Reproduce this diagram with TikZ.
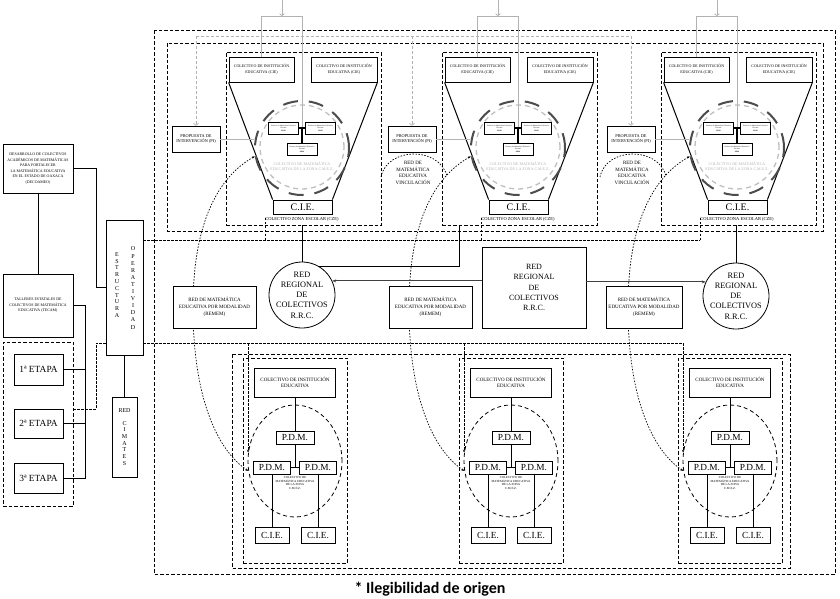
\documentclass[tikz,border=0pt]{standalone}
\usepackage{fontspec}
\setmainfont{Liberation Serif}
\newfontfamily\capfont{Carlito}
\usepackage{tikz}
\usetikzlibrary{shapes.geometric, backgrounds, arrows.meta}

\begin{document}
\begin{tikzpicture}[x=1pt, y=-1pt,
    box/.style={draw, line width=0.8pt, fill=white, inner sep=0pt, align=center},
    tx/.style 2 args={font=\fontsize{#1}{#2}\selectfont},
    dframe/.style={line width=0.7pt, dash pattern=on 3.5pt off 2pt},
    bus/.style={line width=0.5pt, dash pattern=on 2.5pt off 1.5pt},
    greyln/.style={draw=black!30, line width=0.8pt},
    greydash/.style={draw=black!30, line width=0.7pt, dash pattern=on 3pt off 2pt},
    dotln/.style={line width=0.7pt, dash pattern=on 1.5pt off 1.5pt},
    ringA/.style={circle, draw=black!25, line width=1.3pt, dash pattern=on 5pt off 4pt, minimum size=84pt, inner sep=0pt},
    ringB/.style={circle, draw=black!70, line width=2pt, dash pattern=on 15pt off 11pt, minimum size=94pt, inner sep=0pt},
  ]
    \useasboundingbox (0,0) rectangle (840,598);

    % Draw frames
    \draw[dframe] (154,30) rectangle (835,574);
    \draw[dframe] (167,43) rectangle (823,231);
    \draw[dframe] (232,354) rectangle (790,568);
    \node[draw, dframe, minimum width=70pt, minimum height=164pt, inner sep=0pt] (etfr) at (38,424) {};

    % Left column
    \node[box, minimum width=70pt, minimum height=49pt, tx={3.9}{5.5}] (deco) at (38,168.5)
      {DESARROLLO DE COLECTIVOS\\ACADÉMICOS DE MATEMÁTICAS\\PARA FORTALECER\\LA MATEMÁTICA EDUCATIVA\\EN EL ESTADO DE OAXACA\\(DECOAMEO)};
    \node[box, minimum width=70pt, minimum height=63pt, tx={3.9}{5.5}] (tecam) at (38,305.5)
      {TALLERES ESTATALES DE\\COLECTIVOS DE MATEMÁTICA\\EDUCATIVA (TECAM)};
    \foreach \k/\e/\h in {1/369.5/31, 2/423.5/29, 3/478/30}
      \node[box, minimum width=49pt, minimum height=\h pt, tx={9.4}{11}] (et\k) at (38.5,\e) {\k{}ª ETAPA};
    \node[box, minimum width=37pt, minimum height=135pt] (estr) at (124.5,287.5) {};
    \node[tx={6}{6.8}, align=center] (estrL) at (117,285) {E\\S\\T\\R\\U\\C\\T\\U\\R\\A};
    \node[tx={6}{7.1}, align=center] (estrR) at (133,288) {O\\P\\E\\R\\A\\T\\I\\V\\I\\D\\A\\D};
    \node[box, minimum width=25pt, minimum height=80pt, tx={6}{6.7}] (cim) at (124.5,437) {RED\\[6pt]C\\I\\M\\A\\T\\E\\S};

    \coordinate (trunk) at (85,0);
    \draw[line width=0.8pt] (deco) -- (tecam);
    \draw[line width=0.8pt] (deco.east) -- ++(23,0) |- (estr.west);
    \draw[line width=0.8pt] (tecam.east) -| (trunk |- et3.east) -- (et3.east);
    \foreach \k in {1,2}
      \draw[line width=0.8pt] (et\k.east) -- (trunk |- et\k.east);
    \draw[line width=0.8pt] (estr) -- (cim);

    % Grey feed line to the proposals
    \coordinate (gbus) at (0,36);

    % Top clusters
    \foreach \cx/\i in {302/1, 518/2, 737/3} {
      \node[draw, dframe, minimum width=155pt, minimum height=173pt, inner sep=0pt] (clu\i) at (\cx+1.5,138.5) {};
      \node[box, minimum width=65pt, minimum height=25pt, tx={4}{5.6}] (cieL\i) at (\cx-40.5,69.5) {COLECTIVO DE INSTITUCIÓN\\EDUCATIVA (CIE)};
      \node[box, minimum width=66pt, minimum height=25pt, tx={4}{5.6}] (cieR\i) at (\cx+42,69.5) {COLECTIVO DE INSTITUCIÓN\\EDUCATIVA (CIE)};
      \node[box, minimum width=59pt, minimum height=14pt, tx={10}{12}] (cie\i) at (\cx+0.5,207) {C.I.E.};
      \node[tx={4.5}{5}, inner sep=0pt] (cze\i) at (\cx,219.5) {COLECTIVO ZONA ESCOLAR (CZE)};
      \draw[line width=1pt] (cieL\i.south west) -- (cie\i.north west);
      \draw[line width=1pt] (cieR\i.south east) -- (cie\i.north east);
      \node[ringA] (ringA\i) at (\cx,147) {};
      \node[ringB] (ring\i) at (\cx,148) {};
      \node[tx={4}{5}, text=black!30, align=center] (cmez\i) at (\cx,166) {COLECTIVO DE MATEMÁTICA\\EDUCATIVA DE LA ZONA C.M.E.Z.};
      % grey bracket from the top
      \coordinate (tj\i) at (\cx,128);
      \coordinate (feed\i) at (\cx-20,0);
      \draw[greyln, -{To[length=2.5pt]}] (feed\i) -- ++(0,16);
      \draw[greyln] (cieL\i.north) -- ++(0,-40) -| (tj\i);
      % small boxes
      \node[box, minimum width=30pt, minimum height=12pt, tx={1.8}{2.5}] (pa\i) at (\cx-18.5,128) {Profesor de Matemática Educativa\\Docente\\\textbf{PDM}};
      \node[box, minimum width=30pt, minimum height=12pt, tx={1.8}{2.5}] (pb\i) at (\cx+18.5,128) {Profesor de Matemática Educativa\\Docente\\\textbf{PDM}};
      \node[box, minimum width=30pt, minimum height=12pt, tx={1.8}{2.5}] (pc\i) at (\cx,149) {Profesor de Matemática Educativa\\Docente\\\textbf{PDM}};
      \draw[line width=1.6pt] (pa\i) -- (pb\i);
      \draw[line width=1.6pt] (tj\i) -- (pc\i.north);
      % proposal
      \node[box, minimum width=48pt, minimum height=26pt, tx={4.3}{5.5}] (pi\i) at (\cx-106,139) {PROPUESTA DE\\INTERVENCIÓN (PI)};
      \draw[greyln] (pi\i.east) -- (pi\i.east -| ring\i.west);
      \draw[greydash, -{To[length=2.5pt]}] (pi\i.north |- gbus) -- (pi\i.north);
    }
    \draw[greydash] (pi1.north |- gbus) -- (pi3.north |- gbus);

    % Vinculacion labels
    \foreach \cx/\i in {518/2, 737/3}
      \node[tx={5}{6.7}, align=center] (vin\i) at (\cx-105,173) {RED DE\\MATEMÁTICA\\EDUCATIVA\\VINCULACIÓN};

    % Middle: regional networks
    \node[circle, draw, line width=0.8pt, minimum size=66pt, inner sep=0pt] (rrc1) at (302,295) {};
    \node[tx={8.3}{10.2}, align=center] (rrc1t) at (rrc1) {RED\\REGIONAL\\DE\\COLECTIVOS\\R.R.C.};
    \node[circle, draw, line width=0.8pt, minimum size=66pt, inner sep=0pt] (rrc3) at (736,296) {};
    \node[tx={8.3}{10.2}, align=center] (rrc3t) at (rrc3) {RED\\REGIONAL\\DE\\COLECTIVOS\\R.R.C.};
    \node[box, minimum width=104pt, minimum height=81pt, tx={8}{10.2}] (rrcB) at (534,287.5) {RED\\REGIONAL\\DE\\COLECTIVOS\\R.R.C.};
    \foreach \k/\e/\w in {1/214.5/83, 2/430.5/83, 3/644/76}
      \node[box, minimum width=\w pt, minimum height=42pt, tx={5}{6.7}] (rem\k) at (\e,307) {RED DE MATEMÁTICA\\EDUCATIVA POR MODALIDAD\\(REMEM)};

    \draw[line width=0.8pt] (rrc1 |- clu1.south) -- (rrc1.north);
    \draw[line width=0.8pt] ([xshift=-60pt]clu2.south) |- (rrc1.60);
    \draw[line width=0.8pt] (rrc3 |- clu3.south) -- (rrc3.north);
    \draw[line width=0.8pt, black!75, -{Stealth[length=4pt]}] (rrcB.west |- rrc1.25) -- (rrc1.25);
    \draw[line width=0.8pt, black!75, -{Stealth[length=4pt]}] (rrcB.east |- rrc3.155) -- (rrc3.155);

    % Bottom clusters
    \foreach \bx/\i in {295/1, 511/2, 730/3} {
      \node[draw, dframe, minimum width=104pt, minimum height=205pt, inner sep=0pt] (bclu\i) at (\bx,460.5) {};
      \node[ellipse, draw, line width=0.8pt, dash pattern=on 4pt off 3pt, minimum width=94pt, minimum height=112pt, inner sep=0pt] (bell\i) at (\bx,461) {};
      \node[box, minimum width=81pt, minimum height=29pt, tx={5}{6.5}] (bcie\i) at (\bx,382.5) {COLECTIVO DE INSTITUCIÓN\\EDUCATIVA};
      \node[box, minimum width=38pt, minimum height=13pt, tx={9.3}{11}] (pdmT\i) at (\bx,437.5) {P.D.M.};
      \node[box, minimum width=37pt, minimum height=13pt, tx={9.3}{11}] (pdmL\i) at (\bx-23,467.5) {P.D.M.};
      \node[box, minimum width=37pt, minimum height=13pt, tx={9.3}{11}] (pdmR\i) at (\bx+23,467.5) {P.D.M.};
      \node[box, minimum width=34pt, minimum height=16pt, tx={9.3}{11}] (bcL\i) at (\bx-23,535) {C.I.E.};
      \node[box, minimum width=34pt, minimum height=16pt, tx={9.3}{11}] (bcR\i) at (\bx+23,535) {C.I.E.};
      \node[tx={3.1}{3.6}, align=center] (bmez\i) at (\bx,483) {COLECTIVO DE\\MATEMÁTICA EDUCATIVA\\DE LA ZONA\\C.M.E.Z.};
      \draw[line width=0.8pt] (bcie\i) -- (pdmT\i);
      \draw[line width=0.8pt] (pdmT\i.south) -- (pdmT\i.south |- pdmL\i.east);
      \draw[line width=0.8pt] (pdmL\i) -- (pdmR\i);
      \draw[line width=0.8pt] (pdmL\i) -- (bcL\i);
      \draw[line width=0.8pt] (pdmR\i) -- (bcR\i);
    }

    % Dashed and dotted links behind the boxes
    \coordinate (busA) at (0,240);
    \coordinate (bend) at (96,343);
    \begin{scope}[on background layer]
      \draw[bus] (estr.east |- busA) -- (cze3.north west |- busA);
      \foreach \i in {1,2,3}
        \draw[bus] (cze\i.north west |- busA) -- (cze\i.north west);
      \draw[bus] ([yshift=15pt]etfr.east) -| (bend) -- (bend -| bell3.170);
      \foreach \i in {1,2,3}
        \draw[bus, -{Stealth[length=3pt]}] (bell\i.170 |- bend) -- (bell\i.170);
      \foreach \cx/\i in {302/1, 518/2, 737/3}
        \draw[dotln, {Stealth[length=3pt]}-{Stealth[length=3pt]}] (ring\i.190) .. controls +(-35,20) and +(0,-87) .. (\cx-109,307) .. controls +(0,93) and +(-30,-20) .. (bell\i.192);
      \foreach \i in {2,3}
        \draw[dotln] ([shift={(-32,4)}]vin\i.center) .. controls +(6,-30) and +(-8,-30) .. ([shift={(34,3)}]vin\i.center);
    \end{scope}

    % Caption
    \node[font=\capfont\bfseries\fontsize{16}{19}\selectfont] (cap) at (430,589) {* Ilegibilidad de origen};
\end{tikzpicture}
\end{document}
